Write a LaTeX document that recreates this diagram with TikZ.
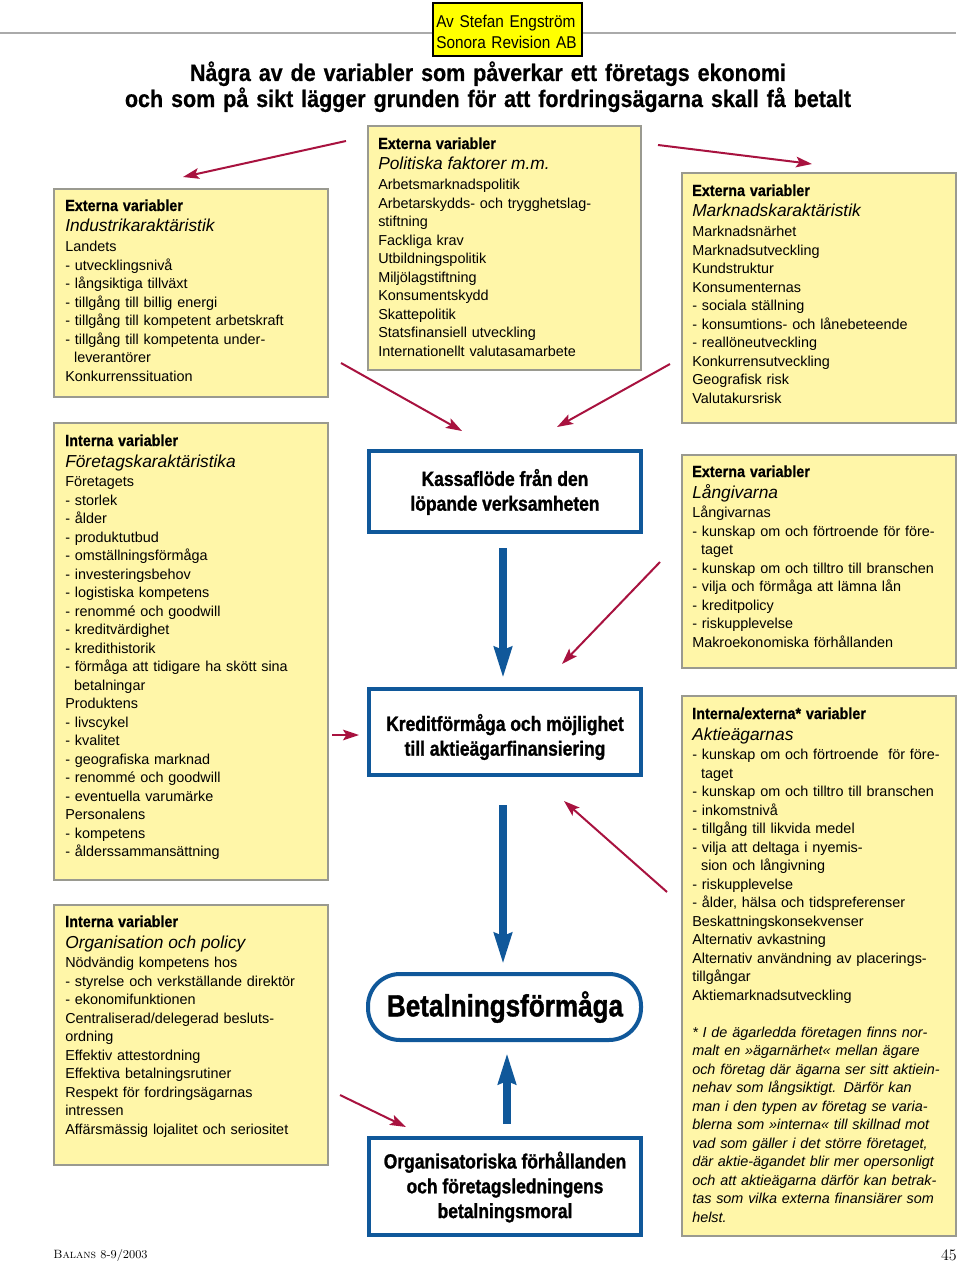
\documentclass[tikz,border=0pt]{standalone}
\usepackage{fontspec}
\usetikzlibrary{arrows.meta,fit}
\newfontfamily\sansf{Liberation Sans}
\newfontfamily\condf[FakeStretch=0.9, BoldFeatures={FakeBold=0.6}]{Liberation Sans}
\newfontfamily\narrf[FakeStretch=0.85, BoldFeatures={FakeBold=1.2}]{Liberation Sans}
\definecolor{boxyellow}{HTML}{FFF6A8}
\definecolor{boxgray}{HTML}{9A9A90}
\definecolor{dblue}{HTML}{10589A}
\definecolor{arrred}{HTML}{A8123F}
\definecolor{authyellow}{HTML}{FFFF00}
\definecolor{linegray}{HTML}{AAAAAA}
\newcommand\hdline[1]{{\condf\bfseries\fontsize{12pt}{15.75pt}\selectfont #1\par}}
\newcommand\subline[1]{{\sansf\itshape\fontsize{13pt}{15.75pt}\selectfont #1\par}\vspace{1.1pt}}
\newcommand\bodyf{\sansf\fontsize{10.8pt}{13.875pt}\selectfont}
\newcommand\ctf{\narrf\bfseries\fontsize{15.4pt}{18.6pt}\selectfont}
\newcommand\ind{\hspace*{6.6pt}}
\tikzset{
  ybox/.style={draw=boxgray, fill=boxyellow, line width=1.1pt, inner sep=0pt},
  bbox/.style={draw=dblue, fill=white, line width=3pt, inner sep=0pt},
  ctxt/.style={anchor=center, inner sep=0pt, align=center, font=\ctf},
  txt/.style={anchor=base west, inner sep=0pt, text width=260pt, align=left, font=\bodyf},
  redarr/.style={draw=arrred, line width=1.5pt, -{Stealth[length=12pt,width=8pt,inset=2.5pt]}},
  bluearr/.style={draw=dblue, line width=5.5pt, -{Stealth[length=23pt,width=13pt,inset=2pt]}},
}
\begin{document}
\begin{tikzpicture}[x=0.75pt,y=-0.75pt]
\fill[white] (0,0) rectangle (960,1262);
\useasboundingbox (0,0) rectangle (960,1262);

% header
\draw[linegray, line width=1.5pt] (0,33) -- (956,33);
\node[draw=black, fill=authyellow, line width=1.1pt, inner sep=0pt, fit={(433,3) (582,56)}] (auth) {};
\node[anchor=base west, inner sep=0pt, text width=140pt, align=left,
      font=\condf\fontsize{12.8pt}{15.75pt}\selectfont] (authtxt) at (436,27.5)
  {Av Stefan Engström\\Sonora Revision AB};
\node[anchor=base, inner sep=0pt, text width=640pt, align=center,
      font=\condf\bfseries\fontsize{17.9pt}{18pt}\selectfont] (title) at (488,81)
  {Några av de variabler som påverkar ett företags ekonomi\\
   och som på sikt lägger grunden för att fordringsägarna skall få betalt};

% yellow boxes
\node[ybox, fit={(54,189) (328,397)}] (b1) {};
\node[ybox, fit={(368,126) (641,370)}] (b2) {};
\node[ybox, fit={(682,173) (956,423)}] (b3) {};
\node[ybox, fit={(54,423) (328,880)}] (b4) {};
\node[ybox, fit={(54,905) (328,1165)}] (b5) {};
\node[ybox, fit={(682,455) (956,668)}] (b6) {};
\node[ybox, fit={(682,696) (956,1236)}] (b7) {};

\node[txt] (t1) at (65,211) {\hdline{Externa variabler}\subline{Industrikaraktäristik}%
Landets\\- utvecklingsnivå\\- långsiktiga tillväxt\\- tillgång till billig energi\\%
- tillgång till kompetent arbetskraft\\- tillgång till kompetenta under-\\\ind leverantörer\\%
Konkurrenssituation};

\node[txt] (t2) at (378,149) {\hdline{Externa variabler}\subline{Politiska faktorer m.m.}%
Arbetsmarknadspolitik\\Arbetarskydds- och trygghetslag-\\stiftning\\Fackliga krav\\%
Utbildningspolitik\\Miljölagstiftning\\Konsumentskydd\\Skattepolitik\\%
Statsfinansiell utveckling\\Internationellt valutasamarbete};

\node[txt] (t3) at (692,196) {\hdline{Externa variabler}\subline{Marknadskaraktäristik}%
Marknadsnärhet\\Marknadsutveckling\\Kundstruktur\\Konsumenternas\\- sociala ställning\\%
- konsumtions- och lånebeteende\\- reallöneutveckling\\Konkurrensutveckling\\%
Geografisk risk\\Valutakursrisk};

\node[txt] (t4) at (65,446) {\hdline{Interna variabler}\subline{Företagskaraktäristika}%
Företagets\\- storlek\\- ålder\\- produktutbud\\- omställningsförmåga\\- investeringsbehov\\%
- logistiska kompetens\\- renommé och goodwill\\- kreditvärdighet\\- kredithistorik\\%
- förmåga att tidigare ha skött sina\\\ind betalningar\\Produktens\\- livscykel\\- kvalitet\\%
- geografiska marknad\\- renommé och goodwill\\- eventuella varumärke\\Personalens\\%
- kompetens\\- ålderssammansättning};

\node[txt] (t5) at (65,927) {\hdline{Interna variabler}\subline{Organisation och policy}%
Nödvändig kompetens hos\\- styrelse och verkställande direktör\\- ekonomifunktionen\\%
Centraliserad/delegerad besluts-\\ordning\\Effektiv attestordning\\%
Effektiva betalningsrutiner\\Respekt för fordringsägarnas\\intressen\\%
Affärsmässig lojalitet och seriositet};

\node[txt] (t6) at (692,477) {\hdline{Externa variabler}\subline{Långivarna}%
Långivarnas\\- kunskap om och förtroende för före-\\\ind taget\\%
- kunskap om och tilltro till branschen\\- vilja och förmåga att lämna lån\\%
- kreditpolicy\\- riskupplevelse\\Makroekonomiska förhållanden};

\node[txt] (t7) at (692,719) {\hdline{Interna/externa* variabler}\subline{Aktieägarnas}%
- kunskap om och förtroende\ \ för före-\\\ind taget\\%
- kunskap om och tilltro till branschen\\- inkomstnivå\\- tillgång till likvida medel\\%
- vilja att deltaga i nyemis-\\\ind sion och långivning\\- riskupplevelse\\%
- ålder, hälsa och tidspreferenser\\Beskattningskonsekvenser\\Alternativ avkastning\\%
Alternativ användning av placerings-\\tillgångar\\Aktiemarknadsutveckling\par
\vspace{13.875pt}
{\itshape * I de ägarledda företagen finns nor-\\malt en »ägarnärhet« mellan ägare\\%
och företag där ägarna ser sitt aktiein-\\nehav som långsiktigt. Därför kan\\%
man i den typen av företag se varia-\\blerna som »interna« till skillnad mot\\%
vad som gäller i det större företaget,\\där aktie-ägandet blir mer opersonligt\\%
och att aktieägarna därför kan betrak-\\tas som vilka externa finansiärer som\\helst.\par}};

% central blue boxes
\node[bbox, fit={(369,451) (641,532)}] (kassa) {};
\node[bbox, fit={(369,689) (641,775)}] (kredit) {};
\node[bbox, rounded corners=24pt, fit={(368,974) (641,1040)}] (betal) {};
\node[bbox, fit={(369,1138) (641,1235)}] (org) {};
\node[ctxt] (kassatxt) at (505,492) {Kassaflöde från den\\löpande verksamheten};
\node[ctxt] (kredittxt) at (505,737) {Kreditförmåga och möjlighet\\till aktieägarfinansiering};
\node[ctxt, font=\narrf\bfseries\fontsize{23pt}{26pt}\selectfont] (betaltxt) at (505,1007) {Betalningsförmåga};
\node[ctxt] (orgtxt) at (505,1187) {Organisatoriska förhållanden\\och företagsledningens\\betalningsmoral};

% blue arrows
\coordinate (ba1s) at (503,548); \coordinate (ba1e) at (503,678);
\coordinate (ba2s) at (503,805); \coordinate (ba2e) at (503,964);
\coordinate (ba3s) at (507,1124); \coordinate (ba3e) at (507,1053);
\draw[bluearr] (ba1s) -- (ba1e);
\draw[bluearr] (ba2s) -- (ba2e);
\draw[bluearr] (ba3s) -- (ba3e);

% red arrows
\coordinate (r1s) at (346,141); \coordinate (r1e) at (183,177);
\coordinate (r2s) at (658,145); \coordinate (r2e) at (812,164);
\coordinate (r3s) at (341,363); \coordinate (r3e) at (462,431);
\coordinate (r4s) at (670,364); \coordinate (r4e) at (557,427);
\coordinate (r5s) at (660,562); \coordinate (r5e) at (562,664);
\coordinate (r6s) at (332,735); \coordinate (r6e) at (359,735);
\coordinate (r7s) at (667,892); \coordinate (r7e) at (564,801);
\coordinate (r8s) at (340,1095); \coordinate (r8e) at (406,1127);
\foreach \i in {1,...,8} { \draw[redarr] (r\i s) -- (r\i e); }

% footer
\node[anchor=base west, inner sep=0pt, font=\rmfamily\fontsize{9pt}{10pt}\selectfont] (foot) at (53,1258) {\textsc{Balans} 8-9/2003};
\node[anchor=base east, inner sep=0pt, font=\rmfamily\fontsize{12pt}{13pt}\selectfont] (pagenum) at (957,1260) {45};
\end{tikzpicture}
\end{document}
